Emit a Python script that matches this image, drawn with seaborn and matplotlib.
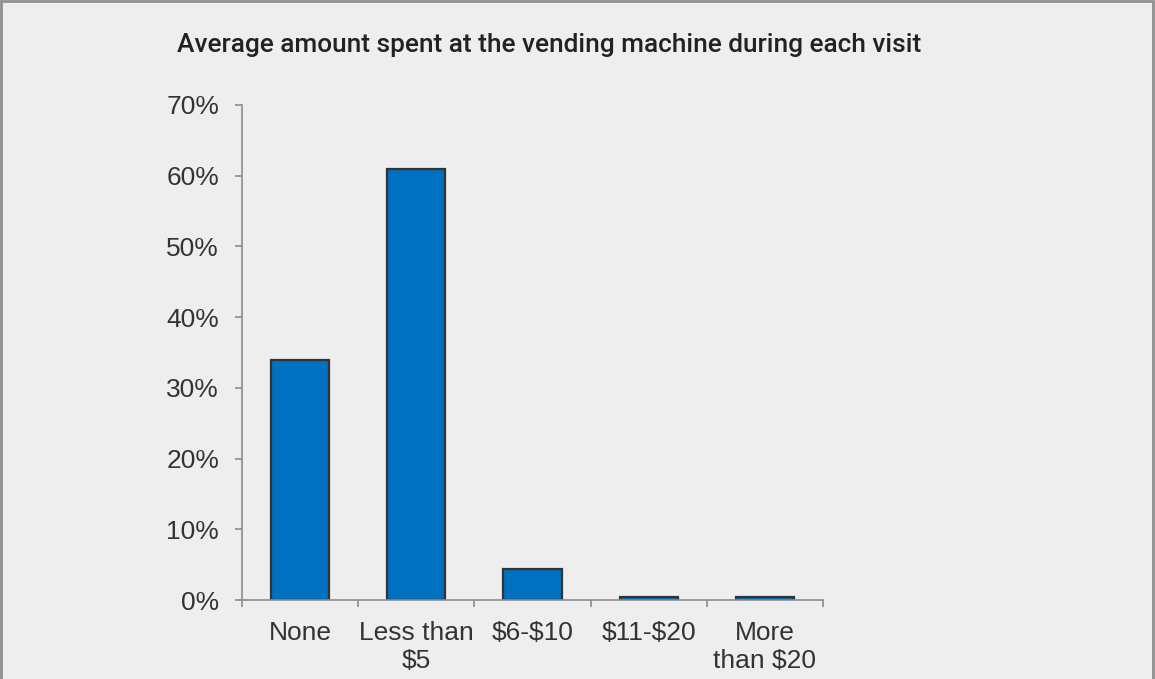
import matplotlib
matplotlib.use("Agg")
import matplotlib.pyplot as plt
import seaborn as sns
import pandas as pd
from matplotlib.ticker import FixedLocator, PercentFormatter
from matplotlib.patches import Rectangle

categories = ["None", "Less than\n$5", "$6-$10", "$11-$20", "More\nthan $20"]
values = [34.0, 61.0, 4.4, 0.4, 0.4]
title = "Average amount spent at the vending machine during each visit"

df = pd.DataFrame({"cat": categories, "val": values})

sns.set_style("white")
plt.rcParams["font.family"] = ["Liberation Sans", "DejaVu Sans"]

BG = "#eeeeee"
AX = "#8c8c8c"
TXT = "#333333"

fig = plt.figure(figsize=(11.55, 6.79), dpi=100, facecolor=BG)
ax = fig.add_axes([242/1155, 79/679, (823-242)/1155, (600-105)/679])
ax.set_facecolor(BG)

sns.barplot(data=df, x="cat", y="val", color="#0070c0", saturation=1,
            width=0.5, edgecolor="#333333", linewidth=1.6, ax=ax)

ax.set_ylim(0, 70)
ax.set_xlim(-0.5, len(categories) - 0.5)
ax.set_yticks(range(0, 71, 10))
ax.yaxis.set_major_formatter(PercentFormatter(decimals=0))
ax.set_xlabel("")
ax.set_ylabel("")

for s in ["top", "right"]:
    ax.spines[s].set_visible(False)
for s in ["left", "bottom"]:
    ax.spines[s].set_color(AX)
    ax.spines[s].set_linewidth(1.2)

ax.tick_params(axis="y", which="major", direction="out", length=5, width=1.2,
               color=AX, labelsize=19, labelcolor=TXT, pad=11.5, left=True)
ax.tick_params(axis="x", which="major", length=0, labelsize=19, labelcolor=TXT, pad=15)
ax.xaxis.set_minor_locator(FixedLocator([i - 0.5 for i in range(len(categories) + 1)]))
ax.tick_params(axis="x", which="minor", direction="out", length=5, width=1.2,
               color=AX, bottom=True)
for t in ax.get_xticklabels():
    t.set_parse_math(False)
    t.set_linespacing(1.2)

fig.text(177/1155, 1 - 45/679, title, fontsize=18.9, color="#222222",
         fontfamily=["Roboto", "DejaVu Sans"], fontweight="medium", va="center", ha="left")

fig.patches.append(Rectangle((0.001, -0.01), 0.997, 1.0085, transform=fig.transFigure,
                             fill=False, edgecolor="#909090", linewidth=2))

fig.savefig("out.png", dpi=100, facecolor=BG)
